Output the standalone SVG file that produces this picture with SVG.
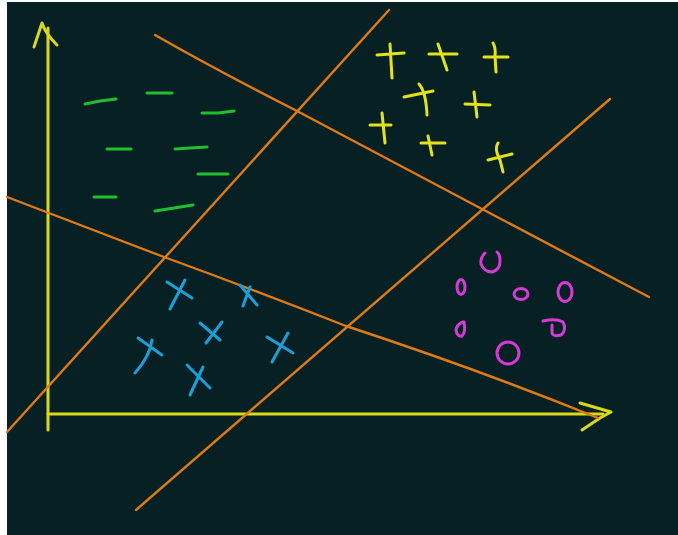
<svg xmlns="http://www.w3.org/2000/svg" width="678" height="535" viewBox="0 0 678 535">
<style>
.ax{stroke:#d8d81c;stroke-width:3;fill:none;stroke-linecap:round;stroke-linejoin:round}
.or{stroke:#e07a14;stroke-width:2.4;fill:none;stroke-linecap:round}
.gr{stroke:#1fbf2e;stroke-width:3;fill:none;stroke-linecap:round}
.ye{stroke:#e3e31c;stroke-width:3;fill:none;stroke-linecap:round}
.bl{stroke:#1a9fd8;stroke-width:3;fill:none;stroke-linecap:round}
.mg{stroke:#d63ad6;stroke-width:3;fill:none;stroke-linecap:round}
</style>
<rect x="0" y="0" width="678" height="535" fill="#ffffff"/>
<rect x="7" y="2" width="671" height="533" fill="#062023"/>
<g id="axes">
<path class="ax" d="M48,430 L48,28"/>
<path class="ax" d="M34,47 L42,23 Q45,33 57,45"/>
<path class="ax" d="M48,414 L603,414"/>
<path class="ax" d="M580,403 L611,412 L600,418 L582,430"/>
</g>
<g id="separators">
<path class="or" d="M155,35 Q220,72 297,111 L482,209 L649,297"/>
<path class="or" d="M7,432 L389,10"/>
<path class="or" d="M7,197 L164,257 Q260,292 346,326 Q480,370 598,418"/>
<path class="or" d="M136,510 L610,99"/>
</g>
<g id="class-minus">
<path class="gr" d="M85,104 L100,101 L116,99"/>
<path class="gr" d="M147,93 L172,93"/>
<path class="gr" d="M202,113 L218,113 L234,111"/>
<path class="gr" d="M107,149 L131,149"/>
<path class="gr" d="M175,149 L190,148 L207,147"/>
<path class="gr" d="M198,174 L228,174"/>
<path class="gr" d="M94,197 L116,197"/>
<path class="gr" d="M155,211 L193,205"/>
</g>
<g id="class-plus">
<path class="ye" d="M377,55 L404,53 M390,44 L392,78"/>
<path class="ye" d="M429,54 L457,54 M438,44 L447,70"/>
<path class="ye" d="M484,57 L508,57 M493,43 Q496,48 495,56 L496,72"/>
<path class="ye" d="M404,97 L433,91 M419,84 Q426,92 427,115"/>
<path class="ye" d="M465,104 L490,105 M474,92 L477,117"/>
<path class="ye" d="M370,125 L391,125 M382,113 L385,143"/>
<path class="ye" d="M421,143 L445,143 M428,136 L432,155"/>
<path class="ye" d="M488,160 L512,154 M498,143 Q494,149 500,160 L503,172"/>
</g>
<g id="class-x">
<path class="bl" d="M167,282 L192,298 M185,280 L170,309"/>
<path class="bl" d="M240,285 L257,305 M250,287 L243,306"/>
<path class="bl" d="M200,323 L220,340 M222,322 L206,343"/>
<path class="bl" d="M138,338 L162,355 M152,340 Q150,356 135,373"/>
<path class="bl" d="M267,337 L293,353 M288,333 L272,362"/>
<path class="bl" d="M187,365 L210,388 M203,367 L190,395"/>
</g>
<g id="class-o">
<path class="mg" d="M485,253 Q480,258 481,264 Q484,272 492,272 Q500,270 500,261 Q500,254 497,252"/>
<ellipse class="mg" cx="461" cy="287" rx="4" ry="7.5"/>
<ellipse class="mg" cx="521" cy="294" rx="7" ry="5.5"/>
<ellipse class="mg" cx="565" cy="292" rx="7" ry="9.5"/>
<path class="mg" d="M463,322 Q457,324 456,330 Q457,337 462,336 Q466,332 464,322"/>
<path class="mg" d="M543,321 Q556,318 563,322 Q567,330 561,335 Q553,337 552,333 L552,325"/>
<circle class="mg" cx="508" cy="353" r="11"/>
</g>
</svg>
